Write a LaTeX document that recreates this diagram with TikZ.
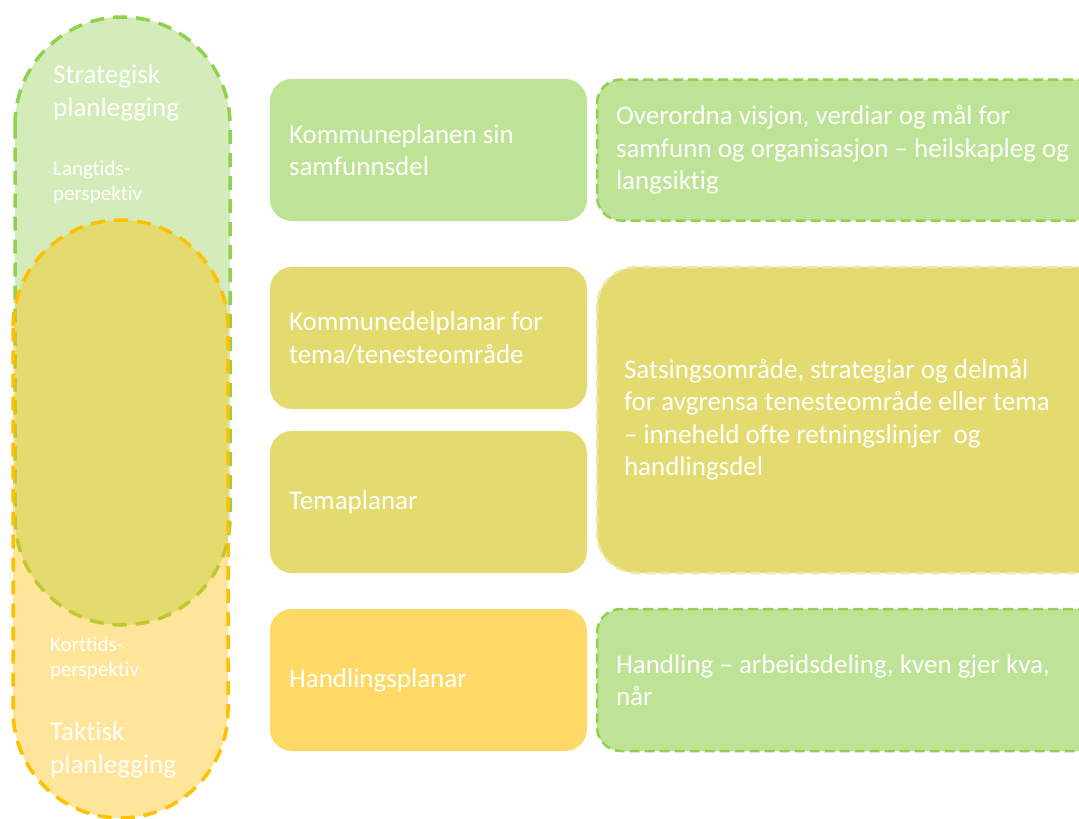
\documentclass[tikz,border=0pt]{standalone}
\usepackage{fontspec}
\setmainfont{Carlito}[Ligatures=NoCommon]
\definecolor{G}{HTML}{92D050}
\definecolor{Y}{HTML}{FFC000}
\definecolor{boxG}{HTML}{BEE396}
\definecolor{boxO}{HTML}{E4DB70}
\definecolor{boxY}{HTML}{FFD966}
\definecolor{faintO}{HTML}{F0E8A8}
\begin{document}
\begin{tikzpicture}[x=1pt,y=-1pt,
  pill/.style={line width=3.5pt, dash pattern=on 14pt off 9pt, rounded corners=107.5pt, fill opacity=0.4},
  big/.style={font=\fontsize{27}{32.5}\selectfont, text=white,
     execute at begin node={\spaceskip=0pt\xspaceskip=0pt\relax}},
  small/.style={font=\fontsize{21}{25}\selectfont, text=white},
  lbl/.style={anchor=west, inner sep=0pt, align=left},
  midbox/.style={big, rounded corners=22pt, minimum width=317pt, minimum height=142pt,
     text width=279pt, inner xsep=19pt, inner ysep=0pt, align=left},
  rbox/.style={big, rounded corners=24pt, line width=2.5pt, dash pattern=on 10pt off 5pt,
     align=left, inner ysep=0pt},
]
\useasboundingbox (0,0) rectangle (1079,819);
\clip (0,0) rectangle (1079,819);
\fill[white] (0,0) rectangle (1079,819);

% left pills
\draw[pill, fill=G, draw=G] (15,17) rectangle (230,625);
\draw[pill, fill=Y, draw=Y] (13,220) rectangle (228,818);

\node[lbl, big] (strat) at (53,93) {Strategisk\\planlegging};
\node[lbl, small] (lang) at (53,182) {Langtids-\\perspektiv};
\node[lbl, small] (kort) at (50,658) {Korttids-\\perspektiv};
\node[lbl, big] (takt) at (50,750) {Taktisk\\planlegging};

% middle column
\node[midbox, fill=boxG] (m1) at (428.5,150) {Kommuneplanen sin\\samfunnsdel};
\node[midbox, fill=boxO] (m2) at (428.5,338) {Kommunedelplanar for\\tema/tenesteområde};
\node[midbox, fill=boxO] (m3) at (428.5,502) {Temaplanar};
\node[midbox, fill=boxY] (m4) at (428.5,680) {Handlingsplanar};

% right column
\node[rbox, fill=boxG, draw=G, minimum width=560pt, minimum height=141pt,
      text width=522pt, inner xsep=18pt] (r1) at (877,150)
  {Overordna visjon, verdiar og mål for\\samfunn og organisasjon – heilskapleg og\\langsiktig};
\node[rbox, fill=boxO, draw=faintO, rounded corners=40pt, minimum width=560pt, minimum height=306pt,
      text width=506pt, inner xsep=27pt] (r2) at (877,420)
  {Satsingsområde, strategiar og delmål\\for avgrensa tenesteområde eller tema\\– inneheld ofte retningslinjer\ \ og\\handlingsdel};
\node[rbox, fill=boxG, draw=G, minimum width=560pt, minimum height=142pt,
      text width=522pt, inner xsep=19pt] (r3) at (877,680)
  {Handling – arbeidsdeling, kven gjer kva,\\når};
\end{tikzpicture}
\end{document}
